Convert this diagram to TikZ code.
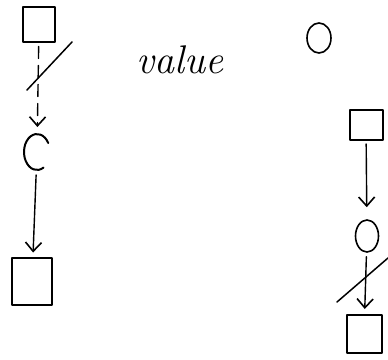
\documentclass[tikz,border=0pt]{standalone}
\usetikzlibrary{arrows.meta,shapes.geometric}
\begin{document}
\begin{tikzpicture}[x=1pt,y=-1pt, line width=2pt, line cap=round, line join=round,
  box/.style={draw, rectangle, inner sep=0pt},
  ring/.style={draw, ellipse, inner sep=0pt},
  hole/.style={ellipse, inner sep=0pt},
  link/.style={-{Straight Barb[length=9pt,width=16pt,line width=1.6pt]}, line width=1.4pt},
  strike/.style={line width=1.5pt}]
\useasboundingbox (0,0) rectangle (388,359);
% left column
\node[box, minimum width=32pt, minimum height=35pt] (b1) at (39,24) {};
\node[hole, minimum width=26pt, minimum height=36pt] (c1) at (37,152) {};
\node[box, minimum width=40pt, minimum height=47pt] (b2) at (32,281) {};
\draw ([shift={(60:13 and 18)}]c1.center) arc[start angle=60, end angle=330, x radius=13, y radius=18];
\draw[link, dash pattern=on 12pt off 7pt, shorten <=4pt, shorten >=6pt] (b1) -- (c1);
\draw[link, shorten <=4pt, shorten >=4pt] (c1) -- (b2);
\coordinate (s1a) at (72,42);
\coordinate (s1b) at (27,90);
\draw[strike] (s1a) -- (s1b);
% text and small circle
\node[font=\fontsize{40}{42}\selectfont\itshape] (val) at (180,60) {value};
\node[ring, line width=1.6pt, minimum width=24pt, minimum height=30pt] (o1) at (319,38) {};
% right column
\node[box, minimum width=33pt, minimum height=30pt] (b3) at (366,125) {};
\node[ring, line width=1.6pt, minimum width=23pt, minimum height=32pt] (r1) at (367,236) {};
\node[box, minimum width=35pt, minimum height=38pt] (b4) at (364,334) {};
\draw[link, shorten <=3pt, shorten >=12pt] (b3) -- (r1);
\draw[link, shorten <=4pt, shorten >=5pt] (r1) -- (b4);
\coordinate (s2a) at (388,258);
\coordinate (s2b) at (337,302);
\draw[strike] (s2a) -- (s2b);
\end{tikzpicture}
\end{document}
